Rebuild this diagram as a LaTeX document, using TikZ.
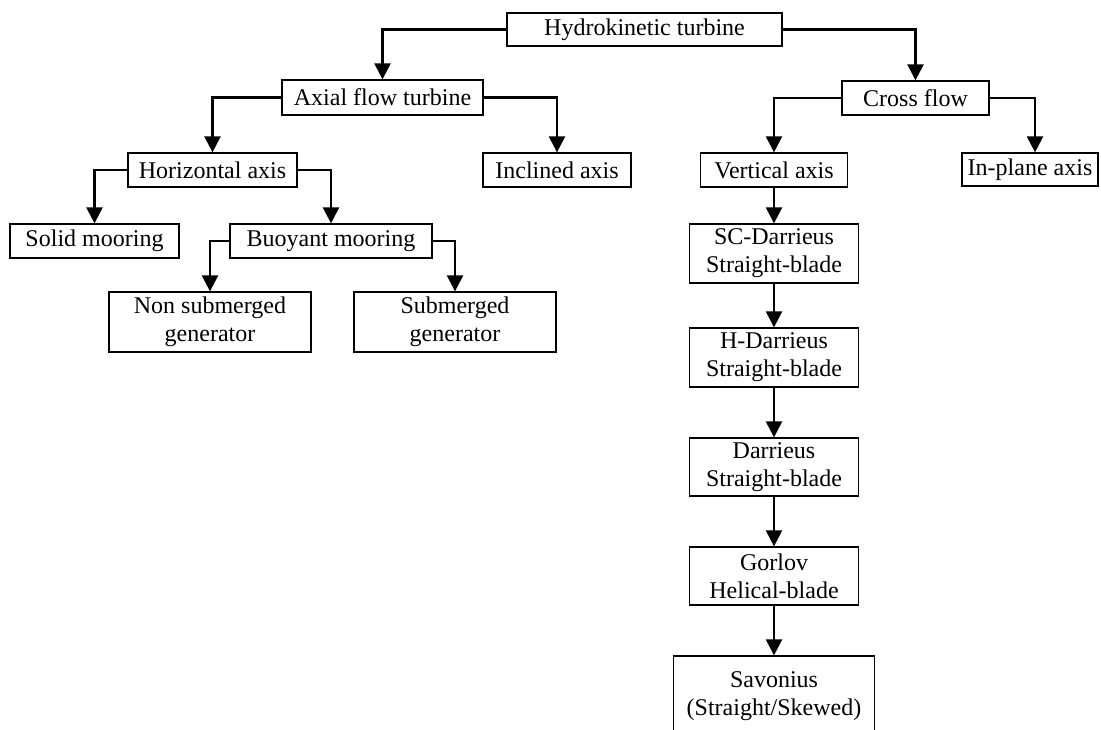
\documentclass[tikz,border=0pt]{standalone}
\usepackage{fontspec}
\setmainfont{Liberation Serif}
\usetikzlibrary{arrows.meta}
\begin{document}
\begin{tikzpicture}[x=0.5pt,y=-0.5pt,
  box/.style={draw, line width=0.65pt, inner sep=0pt, align=center,
    font=\fontsize{12}{14}\selectfont},
  conn/.style={line width=1.2pt, -{Triangle[width=8pt,length=8pt]}}]
\useasboundingbox (0,0) rectangle (1101,729);

% top level
\node[box, minimum width=137.5pt, minimum height=16.5pt] (hk) at (644.5,29.5) {Hydrokinetic turbine};
\node[box, minimum width=100.5pt, minimum height=17.5pt] (axial) at (382.5,97.5) {Axial flow turbine};
\node[box, minimum width=73.5pt, minimum height=17pt] (cross) at (915.5,98) {Cross flow};

% second level
\node[box, minimum width=84.5pt, minimum height=17pt] (horiz) at (212.5,170) {Horizontal axis};
\node[box, minimum width=74pt, minimum height=17pt] (incl) at (557,170) {Inclined axis};
\node[box, minimum width=73.5pt, minimum height=17pt] (vert) at (774,170) {Vertical axis};
\node[box, minimum width=68pt, minimum height=16.5pt] (inplane) at (1030,169.5) {In-plane axis};

% mooring branch
\node[box, minimum width=84.5pt, minimum height=17pt] (solid) at (94.5,241) {Solid mooring};
\node[box, minimum width=101pt, minimum height=17pt] (buoy) at (331,241) {Buoyant mooring};
\node[box, minimum width=101pt, minimum height=30pt] (nonsub) at (210,322) {Non submerged\\generator};
\node[box, minimum width=101pt, minimum height=30pt] (sub) at (455,322) {Submerged\\generator};

% vertical axis family
\node[box, minimum width=84.5pt, minimum height=29.5pt] (sc) at (774,253.5) {SC-Darrieus\\Straight-blade};
\node[box, minimum width=84.5pt, minimum height=29.5pt] (hd) at (774,357.5) {H-Darrieus\\Straight-blade};
\node[box, minimum width=84.5pt, minimum height=29pt] (dar) at (774,467) {Darrieus\\Straight-blade};
\node[box, minimum width=84.5pt, minimum height=29pt] (gor) at (774,576) {Gorlov\\Helical-blade};
\node[box, minimum width=100.5pt, minimum height=40pt] (sav) at (774,696) {Savonius\\(Straight/Skewed)};

% connectors
\draw[conn] (hk.west) -| (axial.north);
\draw[conn] (hk.east) -| (cross.north);
\draw[conn] (axial.west) -| (horiz.north);
\draw[conn] (axial.east) -| (incl.north);
\draw[conn] (cross.west) -| (vert.north);
\draw[conn] (cross.east) -| ([xshift=2.5pt]inplane.north);
\draw[conn] (horiz.west) -| (solid.north);
\draw[conn] (horiz.east) -| (buoy.north);
\draw[conn] (buoy.west) -| (nonsub.north);
\draw[conn] (buoy.east) -| (sub.north);
\draw[conn] (vert.south) -- (sc.north);
\draw[conn] (sc.south) -- (hd.north);
\draw[conn] (hd.south) -- (dar.north);
\draw[conn] (dar.south) -- (gor.north);
\draw[conn] (gor.south) -- (sav.north);
\end{tikzpicture}
\end{document}
